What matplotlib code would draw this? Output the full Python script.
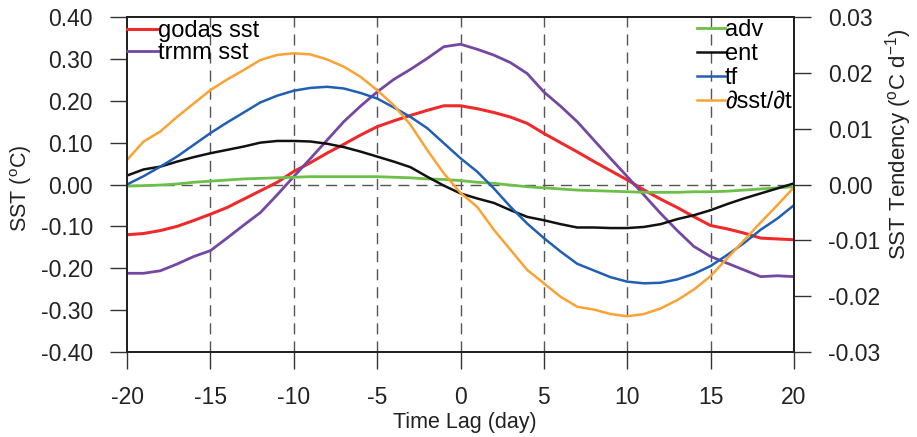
import numpy as np
import matplotlib
matplotlib.use("Agg")
import matplotlib.pyplot as plt

plt.rcParams['font.family'] = ['Liberation Sans', 'DejaVu Sans']
plt.rcParams['axes.unicode_minus'] = False
plt.rcParams['mathtext.fontset'] = 'custom'
plt.rcParams['mathtext.rm'] = 'Liberation Sans'
plt.rcParams['mathtext.it'] = 'Liberation Sans:italic'

lag = np.arange(-20, 21)

# SST anomalies (left axis, degC)
godas_sst = [-0.120, -0.117, -0.110, -0.100, -0.086, -0.071, -0.055, -0.035, -0.015, 0.005,
             0.031, 0.052, 0.075, 0.096, 0.118, 0.138, 0.152, 0.165, 0.177, 0.188,
             0.188, 0.181, 0.172, 0.161, 0.146, 0.122, 0.100, 0.078, 0.055, 0.033,
             0.011, -0.013, -0.035, -0.055, -0.077, -0.098, -0.106, -0.116, -0.128, -0.130,
             -0.132]
trmm_sst = [-0.212, -0.212, -0.206, -0.190, -0.172, -0.158, -0.128, -0.097, -0.067, -0.025,
            0.019, 0.062, 0.106, 0.150, 0.187, 0.221, 0.251, 0.275, 0.301, 0.329,
            0.335, 0.323, 0.309, 0.291, 0.265, 0.221, 0.187, 0.150, 0.106, 0.062,
            0.019, -0.025, -0.069, -0.110, -0.148, -0.172, -0.188, -0.204, -0.220, -0.218,
            -0.220]

# SST tendency terms (right axis, degC/day)
adv = [-0.0003, -0.0002, -0.0001, 0.0001, 0.0004, 0.0006, 0.0008, 0.0010, 0.0011, 0.0012,
       0.0013, 0.0014, 0.0014, 0.0014, 0.0014, 0.0014, 0.0013, 0.0012, 0.0010, 0.0009,
       0.0007, 0.0004, 0.0002, -0.0001, -0.0004, -0.0006, -0.0008, -0.0010, -0.0011, -0.0012,
       -0.0013, -0.0014, -0.0014, -0.0014, -0.0013, -0.0013, -0.0012, -0.0010, -0.0008, -0.0006,
       -0.0004]
ent = [0.0016, 0.0027, 0.0032, 0.0041, 0.0049, 0.0056, 0.0062, 0.0068, 0.0075, 0.0078,
       0.0078, 0.0077, 0.0073, 0.0067, 0.0059, 0.0050, 0.0041, 0.0031, 0.0014, -0.0002,
       -0.0016, -0.0025, -0.0033, -0.0046, -0.0058, -0.0064, -0.0071, -0.0077, -0.0077, -0.0078,
       -0.0078, -0.0076, -0.0071, -0.0062, -0.0055, -0.0046, -0.0035, -0.0025, -0.0016, -0.0007,
       0.0002]
tf = [0.0000, 0.0015, 0.0032, 0.0050, 0.0071, 0.0092, 0.0111, 0.0129, 0.0147, 0.0159,
      0.0168, 0.0173, 0.0175, 0.0172, 0.0164, 0.0154, 0.0138, 0.0121, 0.0101, 0.0074,
      0.0047, 0.0023, -0.0007, -0.0040, -0.0070, -0.0096, -0.0120, -0.0142, -0.0154, -0.0166,
      -0.0174, -0.0177, -0.0176, -0.0170, -0.0160, -0.0146, -0.0126, -0.0105, -0.0081, -0.0061,
      -0.0037]
dsst_dt = [0.0044, 0.0077, 0.0095, 0.0121, 0.0145, 0.0169, 0.0188, 0.0205, 0.0223, 0.0232,
           0.0235, 0.0233, 0.0224, 0.0211, 0.0193, 0.0169, 0.0142, 0.0107, 0.0062, 0.0020,
           -0.0015, -0.0040, -0.0081, -0.0117, -0.0153, -0.0177, -0.0201, -0.0219, -0.0224, -0.0232,
           -0.0236, -0.0232, -0.0222, -0.0207, -0.0188, -0.0164, -0.0132, -0.0100, -0.0068, -0.0037,
           -0.0005]

x_ticks = [-20, -15, -10, -5, 0, 5, 10, 15, 20]
sst_ticks = [-0.4, -0.3, -0.2, -0.1, 0.0, 0.1, 0.2, 0.3, 0.4]
tend_ticks = [-0.03, -0.02, -0.01, 0.0, 0.01, 0.02, 0.03]
ref_lags = [-15, -10, -5, 0, 5, 10, 15]

fig = plt.figure(figsize=(9.17, 4.37), dpi=100)
ax = fig.add_axes([127/917, 1 - 352/437, 667/917, 335/437])
ax2 = ax.twinx()

# reference lines
for xv in ref_lags:
    ax.axvline(xv, color='#555555', lw=1.0, ls=(0, (8, 5)), zorder=1)
ax.axhline(0, color='#555555', lw=1.0, ls=(0, (8, 5)), zorder=1)

l1, = ax.plot(lag, godas_sst, color='#ee2a2a', lw=2.2, label='godas sst')
l2, = ax.plot(lag, trmm_sst, color='#7447a3', lw=2.0, label='trmm sst')
r1, = ax2.plot(lag, adv, color='#6cc04a', lw=2.0, label='adv')
r2, = ax2.plot(lag, ent, color='#111111', lw=1.8, label='ent')
r3, = ax2.plot(lag, tf, color='#215fb4', lw=1.8, label='tf')
r4, = ax2.plot(lag, dsst_dt, color='#faa233', lw=1.8, label='∂sst/∂t')

ax.set_xlim(-20, 20)
ax.set_ylim(-0.4, 0.4)
ax2.set_ylim(-0.03, 0.03)
ax.set_xticks(x_ticks)
ax.set_yticks(sst_ticks)
ax.set_yticklabels([f'{v:.2f}' for v in sst_ticks])
ax2.set_yticks(tend_ticks)
ax2.set_yticklabels([f'{v:.2f}' for v in tend_ticks])

for a in (ax, ax2):
    for s in a.spines.values():
        s.set_linewidth(1.4)
        s.set_color('#222222')
    a.tick_params(direction='out', length=12.5, width=1.0, color='#333333',
                  labelsize=16.5, pad=12, labelcolor='#222222')

ax.set_xlabel('Time Lag (day)', fontsize=15.5, color='#222222')
ax.xaxis.set_label_coords(0.507, -0.209)
ax.xaxis.label.set_va('center')
ax.set_ylabel('SST ($^{\\mathrm{o}}$C)', fontsize=15.5, color='#222222')
ax.yaxis.set_label_coords(-0.159, 0.49)
ax.yaxis.label.set_va('center')
ax2.set_ylabel('SST Tendency ($^{\\mathrm{o}}$C d$^{\\mathrm{-1}}$)', fontsize=16,
               color='#222222')
ax2.yaxis.set_label_coords(1.157, 0.62)
ax2.yaxis.label.set_va('center')

leg1 = ax2.legend(handles=[l1, l2], loc='upper left', bbox_to_anchor=(0, 0.99),
                  frameon=False, fontsize=17, handlelength=1.3, handletextpad=0.0,
                  borderpad=0, borderaxespad=0.0, labelspacing=0.0)
ax2.add_artist(leg1)
ax2.legend(handles=[r1, r2, r3, r4], loc='upper right', bbox_to_anchor=(1.0, 1.0),
           frameon=False, fontsize=17, handlelength=1.2, handletextpad=0.0,
           borderpad=0, borderaxespad=0.1, labelspacing=0.08)

fig.savefig('out.png', dpi=100)
